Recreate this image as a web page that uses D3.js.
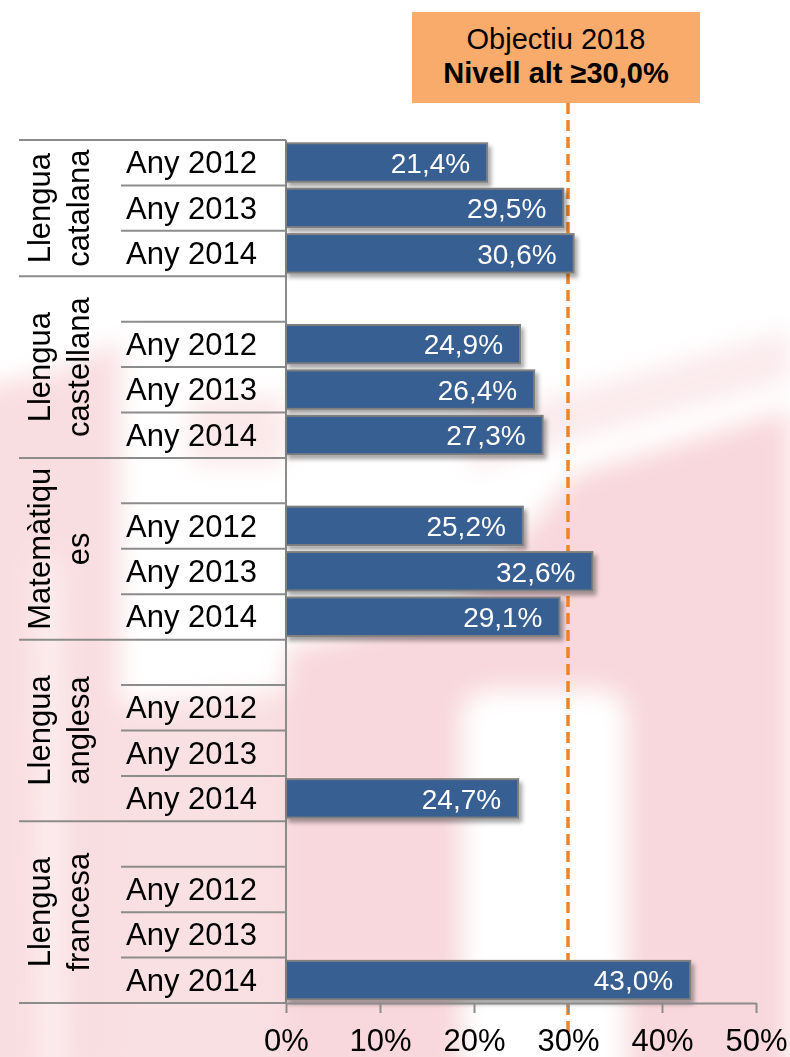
<!DOCTYPE html>
<html>
<head>
<meta charset="utf-8">
<script src="https://cdn.jsdelivr.net/npm/d3@7"></script>
<style>
  html, body { margin: 0; padding: 0; background: #fff; }
  svg { display: block; font-family: "Liberation Sans", Arial, sans-serif; }
</style>
</head>
<body>
<div id="chart"></div>
<script>
(function() {

// chart data
var groups = [["Llengua", "catalana"], ["Llengua", "castellana"], ["Matemàtiqu", "es"], ["Llengua", "anglesa"], ["Llengua", "francesa"]];
var years = ["Any 2012", "Any 2013", "Any 2014"];
var catalana = [21.4, 29.5, 30.6];
var castellana = [24.9, 26.4, 27.3];
var matematiques = [25.2, 32.6, 29.1];
var anglesa = [null, null, 24.7];
var francesa = [null, null, 43.0];
var xTicks = [0, 10, 20, 30, 40, 50];
var target = 30;
var targetTitle = "Objectiu 2018";
var targetLabel = "Nivell alt \u226530,0%";

var series = [catalana, castellana, matematiques, anglesa, francesa];

var width = 790, height = 1057;
var plotLeft = 286, plotRight = 756, plotTop = 140, plotBottom = 1003;

var svg = d3.select("#chart").append("svg")
    .attr("width", width)
    .attr("height", height);

var defs = svg.append("defs");
defs.append("filter").attr("id", "blur")
    .attr("x", "-20%").attr("y", "-20%").attr("width", "140%").attr("height", "140%")
    .append("feGaussianBlur").attr("stdDeviation", 12);
var shadow = defs.append("filter").attr("id", "shadow")
    .attr("x", "-10%").attr("y", "-30%").attr("width", "130%").attr("height", "190%");
shadow.append("feDropShadow")
    .attr("dx", 3).attr("dy", 4).attr("stdDeviation", 2)
    .attr("flood-color", "#000").attr("flood-opacity", 0.35);

//faint watermark behind the chart
var wm = svg.append("g").attr("filter", "url(#blur)");
var pink = "#f8d8dc";
wm.append("path").attr("fill", pink).attr("opacity", 0.5)
    .attr("d", "M470,420 L790,330 L790,380 L470,470 Z");
wm.append("path").attr("fill", pink)
    .attr("d", "M286,650 L455,610 L575,475 L790,410 L790,1080 L286,1080 Z");
wm.append("path").attr("fill", "#fff")
    .attr("d", "M462,1080 L462,720 Q462,690 495,690 L595,690 Q626,690 626,720 L626,1080 Z");
wm.append("path").attr("fill", pink).attr("opacity", 0.85)
    .attr("d", "M-30,390 L60,370 L120,340 L120,1080 L-30,1080 Z");
wm.append("path").attr("fill", pink).attr("opacity", 0.8)
    .attr("d", "M120,705 L286,690 L286,1080 L120,1080 Z");
wm.append("path").attr("fill", pink).attr("opacity", 0.6)
    .attr("d", "M190,400 L286,395 L286,465 L190,465 Z");
wm.append("path").attr("fill", "#fff").attr("opacity", 0.6)
    .attr("d", "M38,560 L58,560 L62,1080 L42,1080 Z");

//rows: a blank slot before every group but the first
var rows = [];
groups.forEach(function(g, gi) {
    if (gi > 0) rows.push({key: gi + "-blank", group: gi, year: null, value: null});
    years.forEach(function(y, yi) {
        rows.push({key: gi + "-" + yi, group: gi, year: y, yi: yi, value: series[gi][yi]});
    });
});

var x = d3.scaleLinear()
    .domain([0, 50])
    .range([plotLeft, plotRight]);

var y = d3.scaleBand()
    .domain(rows.map(function(d) { return d.key; }))
    .range([plotTop, plotBottom])
    .padding(0);

var bw = y.bandwidth();

//target line (behind bars)
svg.append("line")
    .attr("x1", x(target)).attr("x2", x(target))
    .attr("y1", 103).attr("y2", 1035)
    .attr("stroke", "#f08424")
    .attr("stroke-width", 3.5)
    .attr("stroke-dasharray", "11,6");

//table lines
var grid = svg.append("g").attr("stroke", "#8c8c8c").attr("stroke-width", 2);
rows.forEach(function(d) {
    if (d.year === null) return;
    var isGroupTop = (d.group === 0 && d.yi === 0);
    grid.append("line")
        .attr("x1", isGroupTop ? 19 : 121).attr("x2", plotLeft)
        .attr("y1", y(d.key)).attr("y2", y(d.key));
});
groups.forEach(function(g, gi) {
    var last = y(gi + "-2") + bw;
    grid.append("line")
        .attr("x1", 19).attr("x2", plotLeft)
        .attr("y1", last).attr("y2", last);
});
grid.append("line")
    .attr("x1", plotLeft).attr("x2", plotLeft)
    .attr("y1", plotTop).attr("y2", plotBottom);

//bars
var bars = rows.filter(function(d) { return d.value !== null; });
svg.append("g").selectAll("rect")
    .data(bars)
    .join("rect")
    .attr("x", x(0))
    .attr("y", function(d) { return y(d.key) + 3.3; })
    .attr("width", function(d) { return x(d.value) - x(0); })
    .attr("height", bw - 7)
    .attr("fill", "#375f92")
    .attr("stroke", "#7f7f7f")
    .attr("stroke-width", 2)
    .attr("filter", "url(#shadow)");

svg.append("g").selectAll("text")
    .data(bars)
    .join("text")
    .attr("x", function(d) { return x(d.value) - 17; })
    .attr("y", function(d) { return y(d.key) + bw / 2 + 10; })
    .attr("text-anchor", "end")
    .attr("fill", "#fff")
    .style("font-size", "28px")
    .text(function(d) { return d3.format(".1f")(d.value).replace(".", ",") + "%"; });

//year labels
svg.append("g").selectAll("text")
    .data(rows.filter(function(d) { return d.year !== null; }))
    .join("text")
    .attr("x", 257)
    .attr("y", function(d) { return y(d.key) + bw / 2 + 10.5; })
    .attr("text-anchor", "end")
    .attr("fill", "#000")
    .style("font-size", "31px")
    .text(function(d) { return d.year; });

//group labels, rotated
groups.forEach(function(g, gi) {
    var top = gi === 0 ? y("0-0") : y(gi + "-blank");
    var bottom = y(gi + "-2") + bw;
    var gl = svg.append("g")
        .attr("transform", "translate(0," + ((top + bottom) / 2) + ") rotate(-90)");
    gl.append("text").attr("x", 0).attr("y", 50)
        .attr("text-anchor", "middle").style("font-size", "31px").text(g[0]);
    gl.append("text").attr("x", 0).attr("y", 88.5)
        .attr("text-anchor", "middle").style("font-size", "31px").text(g[1]);
});

//x axis
var axis = svg.append("g")
    .attr("transform", "translate(0," + plotBottom + ")")
    .call(d3.axisBottom(x)
        .tickValues(xTicks)
        .tickSize(10)
        .tickSizeOuter(0)
        .tickPadding(16)
        .tickFormat(function(d) { return d + "%"; }));
axis.select(".domain").attr("stroke", "#8c8c8c").attr("stroke-width", 2);
axis.selectAll(".tick line").attr("stroke", "#8c8c8c").attr("stroke-width", 2);
axis.selectAll(".tick text")
    .attr("fill", "#000")
    .style("font-size", "31px")
    .style("font-family", "\"Liberation Sans\", Arial, sans-serif");

//target box
svg.append("rect")
    .attr("x", 412).attr("y", 12)
    .attr("width", 288).attr("height", 91)
    .attr("fill", "#f8ab6b");
svg.append("text")
    .attr("x", 556).attr("y", 49)
    .attr("text-anchor", "middle")
    .style("font-size", "29px")
    .text(targetTitle);
svg.append("text")
    .attr("x", 556).attr("y", 83)
    .attr("text-anchor", "middle")
    .style("font-size", "29px")
    .style("font-weight", "bold")
    .text(targetLabel);

})();
</script>
</body>
</html>
